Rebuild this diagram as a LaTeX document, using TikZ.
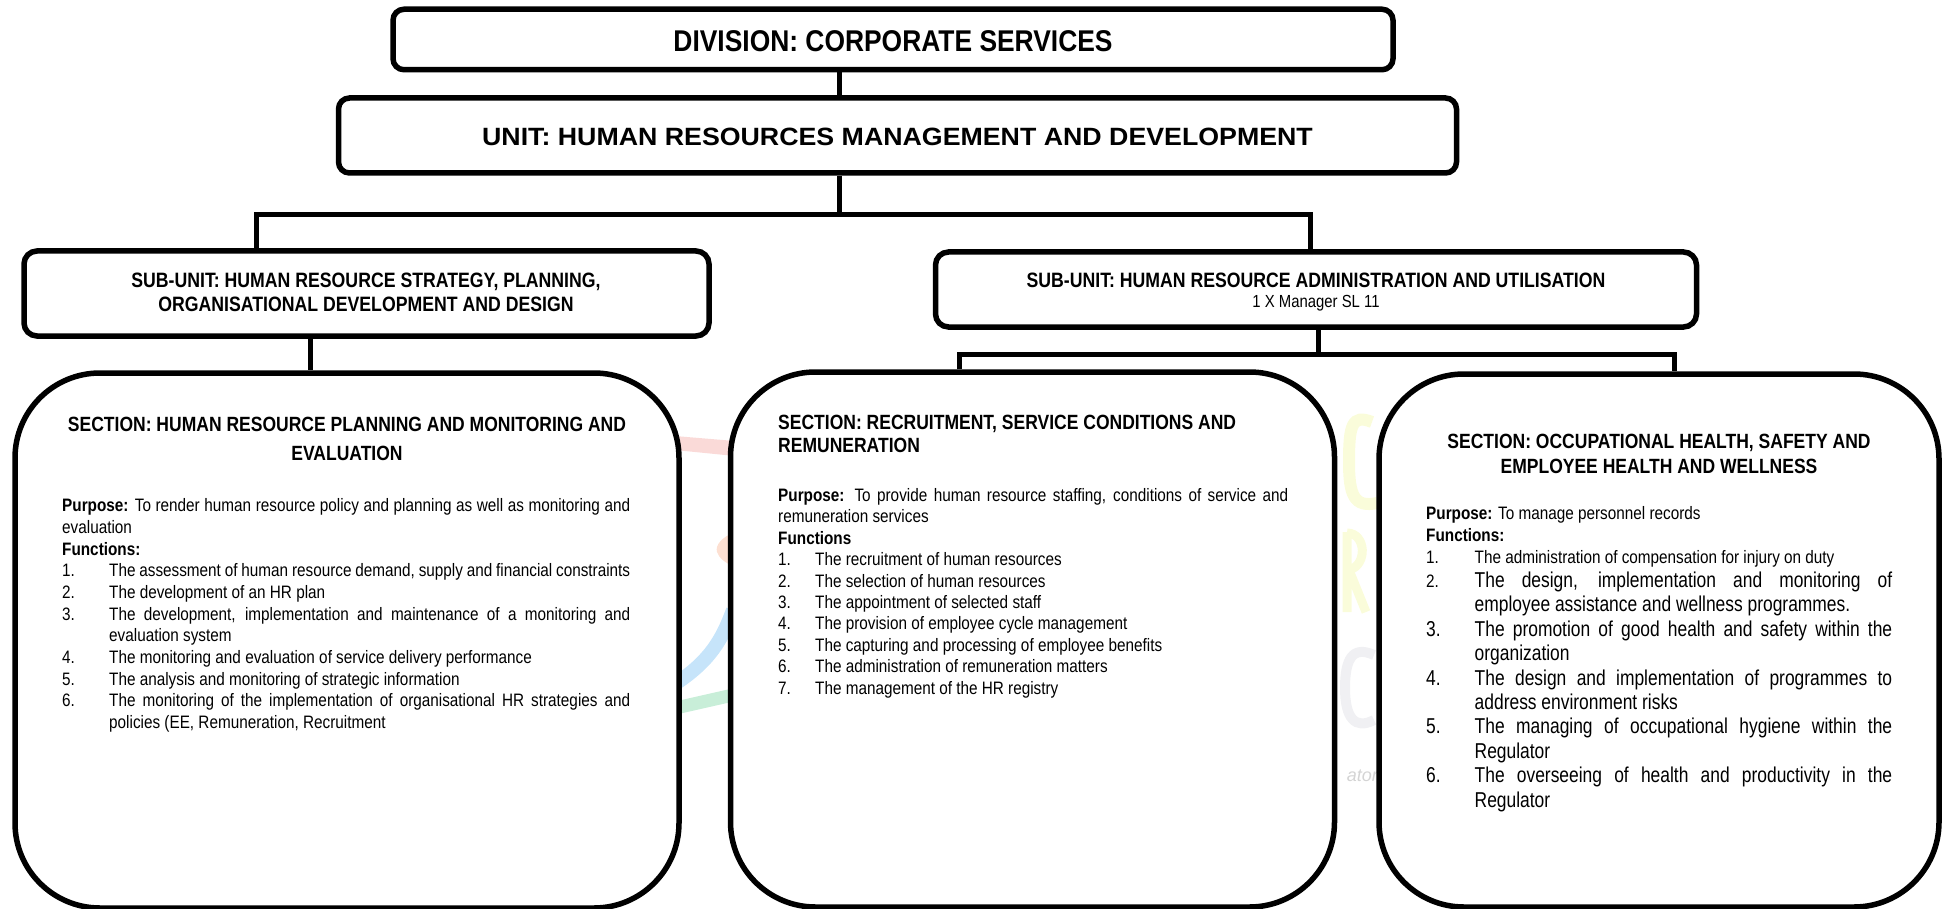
\documentclass[tikz,border=0pt]{standalone}
\usepackage{fontspec}
\setmainfont{Liberation Sans}
\newfontfamily\narf[FakeStretch=0.85]{Liberation Sans}
\newfontfamily\larf[FakeStretch=0.81]{Liberation Sans}
\newfontfamily\divf[FakeStretch=0.88]{Liberation Sans}
\newfontfamily\unif[FakeStretch=1.07]{Liberation Sans}
\newcommand\bsz[1]{\fontsize{18}{#1}\selectfont\narf}
\newcommand\lsz{\fontsize{21.5}{24.4}\selectfont\larf}
\newlength\hng
\newcommand\fnitem[2]{\par\noindent\hangindent=\hng\hangafter=1\strut\makebox[\hng][l]{#1}#2\par}
\definecolor{wmred}{RGB}{250,218,216}
\definecolor{wmsal}{RGB}{253,224,210}
\definecolor{wmblue}{RGB}{198,228,250}
\definecolor{wmgreen}{RGB}{200,238,216}
\definecolor{wmyel}{RGB}{250,252,218}
\definecolor{wmgrey}{RGB}{240,240,243}
\definecolor{wmtxt}{RGB}{212,212,212}
\tikzset{
 x=1pt,y=-1pt,
 orgbox/.style={draw=black,fill=white,line width=5.5pt,rounded corners=11pt,inner sep=0pt,align=center},
 secbox/.style={draw=black,fill=white,line width=5.5pt,rounded corners=85pt,inner sep=0pt},
 link/.style={draw=black,line width=5pt,line join=miter},
 titletext/.style={inner sep=0pt,font=\fontsize{20.8}{24}\selectfont\narf\bfseries,align=center},
 bodytext/.style={inner sep=0pt,anchor=north west,align=justify},
 wm/.style={line width=#1,line cap=butt},
}
\begin{document}
\begin{tikzpicture}
\useasboundingbox (0,0) rectangle (1948,909);
% faint watermark seen between the section boxes
\fill[wmred] (675,436) -- (735,441) -- (735,456) -- (675,450) -- cycle;
\fill[wmsal] (735,532) .. controls (722,537) and (715,545) .. (717,552) .. controls (719,558) and (725,563) .. (735,567) -- cycle;
\draw[wm=14pt,wmblue] (733,610) .. controls (722,640) and (710,660) .. (678,682);
\draw[wm=13pt,wmgreen] (680,707) -- (733,695);
\draw[wm=12pt,wmyel] (1372,422) .. controls (1352,414) and (1349,425) .. (1349,462) .. controls (1349,495) and (1354,508) .. (1377,503);
\draw[wm=9pt,wmyel] (1347,532) -- (1347,612) (1347,533) .. controls (1366,533) and (1368,565) .. (1349,570) -- (1366,612);
\draw[wm=10pt,wmgrey] (1374,655) .. controls (1352,645) and (1345,660) .. (1345,688) .. controls (1345,718) and (1355,730) .. (1374,720);
\node[anchor=east,inner sep=0pt,text=wmtxt,font=\fontsize{18}{20}\selectfont\itshape] (wmtext) at (1378,776) {ator};
% boxes
\node[orgbox,minimum width=1000pt,minimum height=60.5pt,text height=25pt,font=\fontsize{30}{34}\selectfont\divf\bfseries] (division) at (893,39.5) {DIVISION: CORPORATE SERVICES};
\node[orgbox,minimum width=1118pt,minimum height=75pt,text height=21pt,font=\fontsize{25}{30}\selectfont\unif\bfseries] (unit) at (897.5,135.5) {UNIT: HUMAN RESOURCES MANAGEMENT AND DEVELOPMENT};
\node[orgbox,minimum width=685pt,minimum height=85pt,rounded corners=13pt] (subleft) at (366.5,293.5) {};
\node[orgbox,minimum width=761pt,minimum height=75pt,rounded corners=13pt] (subright) at (1316,289.5) {};
\node[secbox,minimum width=664pt,minimum height=535pt] (secleft) at (347,640.5) {};
\node[secbox,minimum width=604pt,minimum height=535pt] (secmid) at (1032.5,639.5) {};
\node[secbox,minimum width=560pt,minimum height=533pt] (secright) at (1659,640.5) {};
\coordinate (busA) at (839,215);
\coordinate (busL) at (256,215);
\coordinate (busR) at (1310,215);
\coordinate (dropL) at (310,340);
\coordinate (busB) at (1318,354);
\coordinate (busM) at (959,354);
\coordinate (busN) at (1674,354);
% connectors
\draw[link] (division.south -| busA) -- (unit.north -| busA);
\draw[link] (unit.south -| busA) -- (busA);
\draw[link] (busL |- subleft.north) -- (busL) -- (busR) -- (busR |- subright.north);
\draw[link] (subleft.south -| dropL) -- (secleft.north -| dropL);
\draw[link] (subright.south -| busB) -- (busB);
\draw[link] (secmid.north -| busM) -- (busM) -- (busN) -- (secright.north -| busN);
% sub-unit labels
\node[titletext] (sublefttext) at (366,292) {SUB-UNIT: HUMAN RESOURCE STRATEGY, PLANNING,\\ORGANISATIONAL DEVELOPMENT AND DESIGN};
\node[titletext] (subrighttitle) at (1316,280) {SUB-UNIT: HUMAN RESOURCE ADMINISTRATION AND UTILISATION};
\node[inner sep=0pt,font=\fontsize{17.5}{20}\selectfont\narf] (subrightsub) at (1316,303) {1 X Manager SL 11};
% left section
\node[titletext,font=\fontsize{20.6}{29}\selectfont\narf\bfseries] (tleft) at (347,438.5) {SECTION: HUMAN RESOURCE PLANNING AND MONITORING AND\\EVALUATION};
\node[bodytext,text width=568pt] (bleft) at (62,496.3) {\bsz{21.7}\setlength\hng{47pt}\setlength\emergencystretch{5pt}%
\noindent\strut\textbf{Purpose:} To render human resource policy and planning as well as monitoring and\linebreak evaluation\par
\noindent\strut\textbf{Functions:}\par
\fnitem{1.}{The assessment of human resource demand, supply and financial constraints}
\fnitem{2.}{The development of an HR plan}
\fnitem{3.}{The development, implementation and maintenance of a monitoring and\linebreak evaluation system}
\fnitem{4.}{The monitoring and evaluation of service delivery performance}
\fnitem{5.}{The analysis and monitoring of strategic information}
\fnitem{6.}{The monitoring of the implementation of organisational HR strategies and\linebreak policies (EE, Remuneration, Recruitment}};
% middle section
\node[inner sep=0pt,anchor=north west,text width=510pt,align=flush left,font=\fontsize{20.6}{23}\selectfont\narf\bfseries] (tmid) at (778,415) {SECTION: RECRUITMENT, SERVICE CONDITIONS AND\\REMUNERATION};
\node[bodytext,text width=510pt] (bmid) at (778,486.3) {\bsz{21.4}\setlength\hng{37pt}\setlength\emergencystretch{5pt}%
\noindent\strut\textbf{Purpose:} To provide human resource staffing, conditions of service and\linebreak remuneration services\par
\noindent\strut\textbf{Functions}\par
\fnitem{1.}{The recruitment of human resources}
\fnitem{2.}{The selection of human resources}
\fnitem{3.}{The appointment of selected staff}
\fnitem{4.}{The provision of employee cycle management}
\fnitem{5.}{The capturing and processing of employee benefits}
\fnitem{6.}{The administration of remuneration matters}
\fnitem{7.}{The management of the HR registry}};
% right section
\node[titletext,font=\fontsize{20.6}{24.4}\selectfont\narf\bfseries] (tright) at (1659,454) {SECTION: OCCUPATIONAL HEALTH, SAFETY AND\\EMPLOYEE HEALTH AND WELLNESS};
\node[bodytext,text width=466pt] (bright) at (1426,503.5) {\bsz{22}\setlength\hng{48.5pt}\setlength\emergencystretch{5pt}%
\noindent\strut\textbf{Purpose:} To manage personnel records\par
\noindent\strut\textbf{Functions:}\par
\fnitem{1.}{{\fontsize{18}{22}\selectfont The administration of compensation for injury on duty}}
\par\noindent\hangindent=\hng\hangafter=1\makebox[\hng][l]{\bsz{22}2.}\lsz\strut The design, implementation and monitoring of\linebreak employee assistance and wellness programmes.\par
\lsz
\fnitem{3.}{The promotion of good health and safety within the\linebreak organization}
\fnitem{4.}{The design and implementation of programmes to\linebreak address environment risks}
\fnitem{5.}{The managing of occupational hygiene within the\linebreak Regulator}
\fnitem{6.}{The overseeing of health and productivity in the\linebreak Regulator}};
\end{tikzpicture}
\end{document}
